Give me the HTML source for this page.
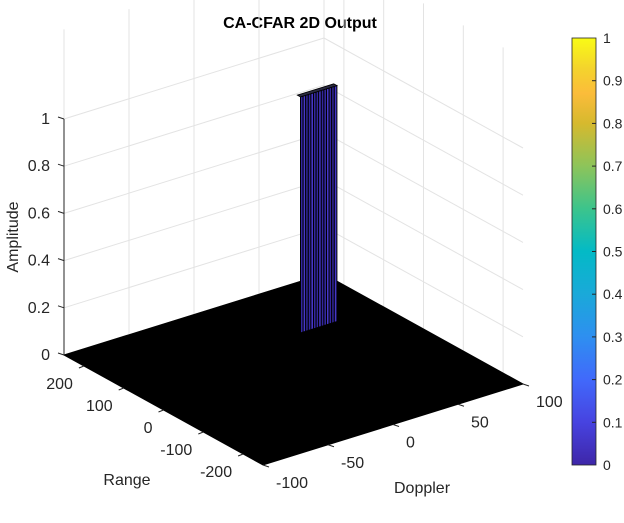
<!DOCTYPE html>
<html><head><meta charset="utf-8"><style>
body{margin:0;background:#fff;}
svg{display:block;font-family:"Liberation Sans",Arial,sans-serif;}
</style></head><body>
<svg id="chart" width="624" height="523" viewBox="0 0 624 523">
<defs>
<linearGradient id="parula" x1="0" y1="1" x2="0" y2="0">
<stop offset="0" stop-color="#3e26a8"/><stop offset="0.1" stop-color="#4743e0"/>
<stop offset="0.2" stop-color="#4169fb"/><stop offset="0.3" stop-color="#2e8ff0"/>
<stop offset="0.4" stop-color="#1aa9d9"/><stop offset="0.5" stop-color="#03bac6"/>
<stop offset="0.6" stop-color="#3cc48c"/><stop offset="0.7" stop-color="#8dc45a"/>
<stop offset="0.8" stop-color="#d6b92e"/><stop offset="0.87" stop-color="#fbbc3a"/>
<stop offset="0.93" stop-color="#f4d42c"/><stop offset="1" stop-color="#f9fb15"/>
</linearGradient>
</defs>
<text x="300" y="28" text-anchor="middle" font-size="16" font-weight="bold" fill="#000">CA-CFAR 2D Output</text>
<g id="grid"></g>
<g id="floor"></g>
<g id="marks"></g>
<g id="axes"></g>
<text transform="translate(18,237) rotate(-90)" text-anchor="middle" font-size="16" fill="#262626">Amplitude</text>
<text x="127" y="485" text-anchor="middle" font-size="16" fill="#262626">Range</text>
<text x="422" y="493" text-anchor="middle" font-size="16" fill="#262626">Doppler</text>
<g id="colorbar">
<rect x="572" y="38" width="24" height="427" fill="url(#parula)" stroke="#262626" stroke-width="0.8"/>
</g>
</svg>
<script>
const rangeTicks=[200,100,0,-100,-200];
const dopplerTicks=[-100,-50,0,50,100];
const zTicks=[0,0.2,0.4,0.6,0.8,1];
const cbTicks=[0,0.1,0.2,0.3,0.4,0.5,0.6,0.7,0.8,0.9,1];
// spike: doppler bins, range position, amplitudes
const spikeDoppler=[36,38,40,42,44,46,48,50,52,54,56,58,60,62,64];
const spikeRange=[100,100,100,100,100,100,100,100,100,100,100,100,100,100,100];
const spikeAmp=[1,1,1,1,1,1,1,1,1,1,1,1,1,1,1];
const dMin=-100,dMax=100,rMin=-250,rMax=250;
function P(d,r,z){return [64+1.3*(d-dMin)+0.398*(rMax-r), 355-0.405*(d-dMin)+0.22*(rMax-r)-236*z];}
const NS='http://www.w3.org/2000/svg';
function mk(parent,tag,attrs){const e=document.createElementNS(NS,tag);for(const k in attrs)e.setAttribute(k,attrs[k]);document.getElementById(parent).appendChild(e);return e;}
function line(parent,a,b,col,w){return mk(parent,'line',{x1:a[0],y1:a[1],x2:b[0],y2:b[1],stroke:col,'stroke-width':w});}
const GC='#e3e3e3';
dopplerTicks.forEach(d=>{const l=line('grid',P(d,rMax,0),P(d,rMax,1.38),GC,1);

});
rangeTicks.forEach(r=>{const l=line('grid',P(dMax,r,0),P(dMax,r,1.38),GC,1);

});
zTicks.forEach(z=>{const a=line('grid',P(dMin,rMax,z),P(dMax,rMax,z),GC,1);


const b=line('grid',P(dMax,rMax,z),P(dMax,rMin,z),GC,1);

});
const c=[P(dMin,rMax,0),P(dMax,rMax,0),P(dMax,rMin,0),P(dMin,rMin,0)];
const fl=mk('floor','polygon',{points:c.map(p=>p.join(',')).join(' '),fill:'#000',stroke:'#000','stroke-width':1});


for(let i=0;i<spikeDoppler.length-1;i++){
 const a0=P(spikeDoppler[i],spikeRange[i],0),a1=P(spikeDoppler[i],spikeRange[i],spikeAmp[i]);
 const b1=P(spikeDoppler[i+1],spikeRange[i+1],spikeAmp[i+1]),b0=P(spikeDoppler[i+1],spikeRange[i+1],0);
 const q=mk('marks','polygon',{points:[a0,a1,b1,b0].map(p=>p.join(',')).join(' '),fill:i%3==1?'#4536c8':'#33279e',stroke:'#000','stroke-width':1});
 
 
}
{const i0=0,i1=spikeDoppler.length-1;const t=[P(spikeDoppler[i0],spikeRange[i0],spikeAmp[i0]),P(spikeDoppler[i1],spikeRange[i1],spikeAmp[i1]),P(spikeDoppler[i1],spikeRange[i1]+8,spikeAmp[i1]),P(spikeDoppler[i0],spikeRange[i0]+8,spikeAmp[i0])];
const q=mk('marks','polygon',{points:t.map(p=>p.join(',')).join(' '),fill:'#2a2a40',stroke:'#000','stroke-width':0.8});

}
const AC='#262626';
const za=line('axes',P(dMin,rMax,0),P(dMin,rMax,1),AC,1);


zTicks.forEach(z=>{const p=P(dMin,rMax,z);line('axes',p,[p[0]-6,p[1]-2],AC,1);
const t=mk('axes','text',{x:p[0]-14,y:p[1]+5,'text-anchor':'end','font-size':16,fill:AC});t.textContent=String(z);

});
rangeTicks.forEach(r=>{const p=P(dMin,r,0);line('axes',p,[p[0]-5,p[1]+2],AC,1);
const t=mk('axes','text',{x:p[0]-11,y:p[1]+23,'text-anchor':'end','font-size':16,fill:AC});t.textContent=String(r);

});
dopplerTicks.forEach(d=>{const p=P(d,rMin,0);line('axes',p,[p[0]+6,p[1]+2],AC,1);
const t=mk('axes','text',{x:p[0]+13,y:p[1]+23,'text-anchor':'start','font-size':16,fill:AC});t.textContent=String(d);

});
cbTicks.forEach(v=>{const y=465-427*v;
if(v>0&&v<1)line('colorbar',[596,y],[592,y],AC,1);
const t=mk('colorbar','text',{x:603,y:y+5,'font-size':14,fill:AC});t.textContent=String(v);

});
</script>
</body></html>
